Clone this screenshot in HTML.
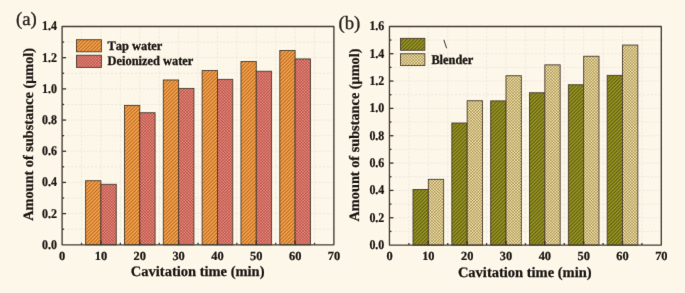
<!DOCTYPE html>
<html><head><meta charset="utf-8"><style>
html,body{margin:0;padding:0;background:#fdf7ea;}
#c{width:685px;height:293px;position:relative;overflow:hidden;background:#fdf7ea;}
svg{position:absolute;left:0;top:0;}
</style></head><body><div id="c">
<svg width="685" height="293" viewBox="0 0 685 293" text-rendering="geometricPrecision">

<defs>
 <filter id="bl" x="0" y="0" width="1" height="1" color-interpolation-filters="sRGB"><feConvolveMatrix order="5" kernelMatrix="0.00016 -0.00108 -0.01070 -0.00108 0.00016 -0.00108 0.00740 0.07338 0.00740 -0.00108 -0.01070 0.07338 0.72769 0.07338 -0.01070 -0.00108 0.00740 0.07338 0.00740 -0.00108 0.00016 -0.00108 -0.01070 -0.00108 0.00016" edgeMode="duplicate" preserveAlpha="true"/></filter>
 <pattern id="pOr" patternUnits="userSpaceOnUse" width="2.5" height="10" patternTransform="rotate(45)">
   <rect width="2.5" height="10" fill="#fca448"/>
   <rect width="1.0" height="10" fill="#b06a2a"/>
 </pattern>
 <pattern id="pRd" patternUnits="userSpaceOnUse" width="2.05" height="2.05" patternTransform="rotate(45)">
   <rect width="2.05" height="2.05" fill="#f98c7e"/>
   <rect width="0.8" height="2.05" fill="#702822" fill-opacity="0.42"/>
   <rect width="2.05" height="0.8" fill="#702822" fill-opacity="0.42"/>
 </pattern>
 <pattern id="pGr" patternUnits="userSpaceOnUse" width="2.5" height="10" patternTransform="rotate(45)">
   <rect width="2.5" height="10" fill="#9a9822"/>
   <rect width="1.0" height="10" fill="#5c5912"/>
 </pattern>
 <pattern id="pTn" patternUnits="userSpaceOnUse" width="2.05" height="2.05" patternTransform="rotate(45)">
   <rect width="2.05" height="2.05" fill="#fcecaa"/>
   <rect width="0.8" height="2.05" fill="#5a4418" fill-opacity="0.4"/>
   <rect width="2.05" height="0.8" fill="#5a4418" fill-opacity="0.4"/>
 </pattern>
</defs>
<g filter="url(#bl)"><rect width="685" height="293" fill="#fdf7ea"/>
<g stroke="#ebe6da" stroke-width="0.8" stroke-dasharray="2.4 1.6"><line x1="63.10" y1="229.21" x2="332.90" y2="229.21"/><line x1="63.10" y1="213.61" x2="332.90" y2="213.61"/><line x1="63.10" y1="198.02" x2="332.90" y2="198.02"/><line x1="63.10" y1="182.43" x2="332.90" y2="182.43"/><line x1="63.10" y1="166.84" x2="332.90" y2="166.84"/><line x1="63.10" y1="151.24" x2="332.90" y2="151.24"/><line x1="63.10" y1="135.65" x2="332.90" y2="135.65"/><line x1="63.10" y1="120.06" x2="332.90" y2="120.06"/><line x1="63.10" y1="104.46" x2="332.90" y2="104.46"/><line x1="63.10" y1="88.87" x2="332.90" y2="88.87"/><line x1="63.10" y1="73.28" x2="332.90" y2="73.28"/><line x1="63.10" y1="57.68" x2="332.90" y2="57.68"/><line x1="63.10" y1="42.09" x2="332.90" y2="42.09"/><line x1="81.52" y1="27.45" x2="81.52" y2="243.80"/><line x1="100.94" y1="27.45" x2="100.94" y2="243.80"/><line x1="120.35" y1="27.45" x2="120.35" y2="243.80"/><line x1="139.77" y1="27.45" x2="139.77" y2="243.80"/><line x1="159.19" y1="27.45" x2="159.19" y2="243.80"/><line x1="178.61" y1="27.45" x2="178.61" y2="243.80"/><line x1="198.03" y1="27.45" x2="198.03" y2="243.80"/><line x1="217.44" y1="27.45" x2="217.44" y2="243.80"/><line x1="236.86" y1="27.45" x2="236.86" y2="243.80"/><line x1="256.28" y1="27.45" x2="256.28" y2="243.80"/><line x1="275.70" y1="27.45" x2="275.70" y2="243.80"/><line x1="295.12" y1="27.45" x2="295.12" y2="243.80"/><line x1="314.53" y1="27.45" x2="314.53" y2="243.80"/></g>
<rect x="85.62" y="180.71" width="15.32" height="64.09" fill="url(#pOr)" stroke="#4a3d30" stroke-width="0.9"/>
<rect x="100.94" y="184.30" width="15.32" height="60.50" fill="url(#pRd)" stroke="#4a3d30" stroke-width="0.9"/>
<rect x="124.45" y="105.40" width="15.32" height="139.40" fill="url(#pOr)" stroke="#4a3d30" stroke-width="0.9"/>
<rect x="139.77" y="112.73" width="15.32" height="132.07" fill="url(#pRd)" stroke="#4a3d30" stroke-width="0.9"/>
<rect x="163.29" y="79.98" width="15.32" height="164.82" fill="url(#pOr)" stroke="#4a3d30" stroke-width="0.9"/>
<rect x="178.61" y="88.40" width="15.32" height="156.40" fill="url(#pRd)" stroke="#4a3d30" stroke-width="0.9"/>
<rect x="202.12" y="70.55" width="15.32" height="174.25" fill="url(#pOr)" stroke="#4a3d30" stroke-width="0.9"/>
<rect x="217.44" y="79.36" width="15.32" height="165.44" fill="url(#pRd)" stroke="#4a3d30" stroke-width="0.9"/>
<rect x="240.96" y="61.58" width="15.32" height="183.22" fill="url(#pOr)" stroke="#4a3d30" stroke-width="0.9"/>
<rect x="256.28" y="71.25" width="15.32" height="173.55" fill="url(#pRd)" stroke="#4a3d30" stroke-width="0.9"/>
<rect x="279.80" y="50.45" width="15.32" height="194.35" fill="url(#pOr)" stroke="#4a3d30" stroke-width="0.9"/>
<rect x="295.12" y="58.93" width="15.32" height="185.87" fill="url(#pRd)" stroke="#4a3d30" stroke-width="0.9"/>
<g stroke="#3a332a" stroke-width="1.3"><line x1="62.10" y1="229.21" x2="64.10" y2="229.21"/><line x1="62.10" y1="213.61" x2="66.10" y2="213.61"/><line x1="62.10" y1="198.02" x2="64.10" y2="198.02"/><line x1="62.10" y1="182.43" x2="66.10" y2="182.43"/><line x1="62.10" y1="166.84" x2="64.10" y2="166.84"/><line x1="62.10" y1="151.24" x2="66.10" y2="151.24"/><line x1="62.10" y1="135.65" x2="64.10" y2="135.65"/><line x1="62.10" y1="120.06" x2="66.10" y2="120.06"/><line x1="62.10" y1="104.46" x2="64.10" y2="104.46"/><line x1="62.10" y1="88.87" x2="66.10" y2="88.87"/><line x1="62.10" y1="73.28" x2="64.10" y2="73.28"/><line x1="62.10" y1="57.68" x2="66.10" y2="57.68"/><line x1="62.10" y1="42.09" x2="64.10" y2="42.09"/><line x1="81.52" y1="244.80" x2="81.52" y2="242.80"/><line x1="100.94" y1="244.80" x2="100.94" y2="240.80"/><line x1="120.35" y1="244.80" x2="120.35" y2="242.80"/><line x1="139.77" y1="244.80" x2="139.77" y2="240.80"/><line x1="159.19" y1="244.80" x2="159.19" y2="242.80"/><line x1="178.61" y1="244.80" x2="178.61" y2="240.80"/><line x1="198.03" y1="244.80" x2="198.03" y2="242.80"/><line x1="217.44" y1="244.80" x2="217.44" y2="240.80"/><line x1="236.86" y1="244.80" x2="236.86" y2="242.80"/><line x1="256.28" y1="244.80" x2="256.28" y2="240.80"/><line x1="275.70" y1="244.80" x2="275.70" y2="242.80"/><line x1="295.12" y1="244.80" x2="295.12" y2="240.80"/><line x1="314.53" y1="244.80" x2="314.53" y2="242.80"/></g>
<rect x="62.10" y="26.45" width="271.80" height="218.35" fill="none" stroke="#463e34" stroke-width="1.35" stroke-linejoin="round"/>
<g font-family="Liberation Serif" font-weight="bold" font-size="12.4" fill="#1a1612" stroke="#1a1612" stroke-width="0.22"><text transform="translate(57.00,248.70) scale(0.965,1.075)" text-anchor="end">0.0</text><text transform="translate(57.00,217.51) scale(0.965,1.075)" text-anchor="end">0.2</text><text transform="translate(57.00,186.33) scale(0.965,1.075)" text-anchor="end">0.4</text><text transform="translate(57.00,155.14) scale(0.965,1.075)" text-anchor="end">0.6</text><text transform="translate(57.00,123.96) scale(0.965,1.075)" text-anchor="end">0.8</text><text transform="translate(57.00,92.77) scale(0.965,1.075)" text-anchor="end">1.0</text><text transform="translate(57.00,61.58) scale(0.965,1.075)" text-anchor="end">1.2</text><text transform="translate(57.00,30.40) scale(0.965,1.075)" text-anchor="end">1.4</text><text transform="translate(62.10,259.5)" text-anchor="middle">0</text><text transform="translate(100.94,259.5)" text-anchor="middle">10</text><text transform="translate(139.77,259.5)" text-anchor="middle">20</text><text transform="translate(178.61,259.5)" text-anchor="middle">30</text><text transform="translate(217.44,259.5)" text-anchor="middle">40</text><text transform="translate(256.28,259.5)" text-anchor="middle">50</text><text transform="translate(295.12,259.5)" text-anchor="middle">60</text><text transform="translate(333.95,259.5)" text-anchor="middle">70</text></g>
<g stroke="#ebe6da" stroke-width="0.8" stroke-dasharray="2.4 1.6"><line x1="390.45" y1="231.43" x2="660.30" y2="231.43"/><line x1="390.45" y1="217.76" x2="660.30" y2="217.76"/><line x1="390.45" y1="204.09" x2="660.30" y2="204.09"/><line x1="390.45" y1="190.42" x2="660.30" y2="190.42"/><line x1="390.45" y1="176.75" x2="660.30" y2="176.75"/><line x1="390.45" y1="163.08" x2="660.30" y2="163.08"/><line x1="390.45" y1="149.41" x2="660.30" y2="149.41"/><line x1="390.45" y1="135.74" x2="660.30" y2="135.74"/><line x1="390.45" y1="122.07" x2="660.30" y2="122.07"/><line x1="390.45" y1="108.40" x2="660.30" y2="108.40"/><line x1="390.45" y1="94.73" x2="660.30" y2="94.73"/><line x1="390.45" y1="81.06" x2="660.30" y2="81.06"/><line x1="390.45" y1="67.39" x2="660.30" y2="67.39"/><line x1="390.45" y1="53.72" x2="660.30" y2="53.72"/><line x1="390.45" y1="40.05" x2="660.30" y2="40.05"/><line x1="408.92" y1="27.50" x2="408.92" y2="244.10"/><line x1="428.33" y1="27.50" x2="428.33" y2="244.10"/><line x1="447.75" y1="27.50" x2="447.75" y2="244.10"/><line x1="467.17" y1="27.50" x2="467.17" y2="244.10"/><line x1="486.59" y1="27.50" x2="486.59" y2="244.10"/><line x1="506.00" y1="27.50" x2="506.00" y2="244.10"/><line x1="525.42" y1="27.50" x2="525.42" y2="244.10"/><line x1="544.84" y1="27.50" x2="544.84" y2="244.10"/><line x1="564.26" y1="27.50" x2="564.26" y2="244.10"/><line x1="583.67" y1="27.50" x2="583.67" y2="244.10"/><line x1="603.09" y1="27.50" x2="603.09" y2="244.10"/><line x1="622.51" y1="27.50" x2="622.51" y2="244.10"/><line x1="641.93" y1="27.50" x2="641.93" y2="244.10"/></g>
<rect x="413.01" y="189.46" width="15.32" height="55.64" fill="url(#pGr)" stroke="#4a3d30" stroke-width="0.9"/>
<rect x="428.33" y="179.35" width="15.32" height="65.75" fill="url(#pTn)" stroke="#4a3d30" stroke-width="0.9"/>
<rect x="451.85" y="123.03" width="15.32" height="122.07" fill="url(#pGr)" stroke="#4a3d30" stroke-width="0.9"/>
<rect x="467.17" y="100.74" width="15.32" height="144.36" fill="url(#pTn)" stroke="#4a3d30" stroke-width="0.9"/>
<rect x="490.69" y="100.88" width="15.32" height="144.22" fill="url(#pGr)" stroke="#4a3d30" stroke-width="0.9"/>
<rect x="506.00" y="75.73" width="15.32" height="169.37" fill="url(#pTn)" stroke="#4a3d30" stroke-width="0.9"/>
<rect x="529.52" y="92.75" width="15.32" height="152.35" fill="url(#pGr)" stroke="#4a3d30" stroke-width="0.9"/>
<rect x="544.84" y="64.85" width="15.32" height="180.25" fill="url(#pTn)" stroke="#4a3d30" stroke-width="0.9"/>
<rect x="568.35" y="84.75" width="15.32" height="160.35" fill="url(#pGr)" stroke="#4a3d30" stroke-width="0.9"/>
<rect x="583.67" y="56.25" width="15.32" height="188.85" fill="url(#pTn)" stroke="#4a3d30" stroke-width="0.9"/>
<rect x="607.19" y="75.35" width="15.32" height="169.75" fill="url(#pGr)" stroke="#4a3d30" stroke-width="0.9"/>
<rect x="622.51" y="45.05" width="15.32" height="200.05" fill="url(#pTn)" stroke="#4a3d30" stroke-width="0.9"/>
<g stroke="#3a332a" stroke-width="1.3"><line x1="389.45" y1="231.43" x2="391.45" y2="231.43"/><line x1="389.45" y1="217.76" x2="393.45" y2="217.76"/><line x1="389.45" y1="204.09" x2="391.45" y2="204.09"/><line x1="389.45" y1="190.42" x2="393.45" y2="190.42"/><line x1="389.45" y1="176.75" x2="391.45" y2="176.75"/><line x1="389.45" y1="163.08" x2="393.45" y2="163.08"/><line x1="389.45" y1="149.41" x2="391.45" y2="149.41"/><line x1="389.45" y1="135.74" x2="393.45" y2="135.74"/><line x1="389.45" y1="122.07" x2="391.45" y2="122.07"/><line x1="389.45" y1="108.40" x2="393.45" y2="108.40"/><line x1="389.45" y1="94.73" x2="391.45" y2="94.73"/><line x1="389.45" y1="81.06" x2="393.45" y2="81.06"/><line x1="389.45" y1="67.39" x2="391.45" y2="67.39"/><line x1="389.45" y1="53.72" x2="393.45" y2="53.72"/><line x1="389.45" y1="40.05" x2="391.45" y2="40.05"/><line x1="408.92" y1="245.10" x2="408.92" y2="243.10"/><line x1="428.33" y1="245.10" x2="428.33" y2="241.10"/><line x1="447.75" y1="245.10" x2="447.75" y2="243.10"/><line x1="467.17" y1="245.10" x2="467.17" y2="241.10"/><line x1="486.59" y1="245.10" x2="486.59" y2="243.10"/><line x1="506.00" y1="245.10" x2="506.00" y2="241.10"/><line x1="525.42" y1="245.10" x2="525.42" y2="243.10"/><line x1="544.84" y1="245.10" x2="544.84" y2="241.10"/><line x1="564.26" y1="245.10" x2="564.26" y2="243.10"/><line x1="583.67" y1="245.10" x2="583.67" y2="241.10"/><line x1="603.09" y1="245.10" x2="603.09" y2="243.10"/><line x1="622.51" y1="245.10" x2="622.51" y2="241.10"/><line x1="641.93" y1="245.10" x2="641.93" y2="243.10"/></g>
<rect x="389.45" y="26.50" width="271.85" height="218.60" fill="none" stroke="#463e34" stroke-width="1.35" stroke-linejoin="round"/>
<g font-family="Liberation Serif" font-weight="bold" font-size="12.4" fill="#1a1612" stroke="#1a1612" stroke-width="0.22"><text transform="translate(384.35,249.00) scale(0.965,1.075)" text-anchor="end">0.0</text><text transform="translate(384.35,221.66) scale(0.965,1.075)" text-anchor="end">0.2</text><text transform="translate(384.35,194.32) scale(0.965,1.075)" text-anchor="end">0.4</text><text transform="translate(384.35,166.98) scale(0.965,1.075)" text-anchor="end">0.6</text><text transform="translate(384.35,139.64) scale(0.965,1.075)" text-anchor="end">0.8</text><text transform="translate(384.35,112.30) scale(0.965,1.075)" text-anchor="end">1.0</text><text transform="translate(384.35,84.96) scale(0.965,1.075)" text-anchor="end">1.2</text><text transform="translate(384.35,57.62) scale(0.965,1.075)" text-anchor="end">1.4</text><text transform="translate(384.35,30.28) scale(0.965,1.075)" text-anchor="end">1.6</text><text transform="translate(389.50,259.5)" text-anchor="middle">0</text><text transform="translate(428.33,259.5)" text-anchor="middle">10</text><text transform="translate(467.17,259.5)" text-anchor="middle">20</text><text transform="translate(506.00,259.5)" text-anchor="middle">30</text><text transform="translate(544.84,259.5)" text-anchor="middle">40</text><text transform="translate(583.67,259.5)" text-anchor="middle">50</text><text transform="translate(622.51,259.5)" text-anchor="middle">60</text><text transform="translate(661.35,259.5)" text-anchor="middle">70</text></g>
<g font-family="Liberation Serif" font-weight="bold" font-size="14.5" fill="#1a1612" stroke="#1a1612" stroke-width="0.25">
<text x="130.8" y="276.1">Cavitation time (min)</text>
<text x="457.9" y="276.6">Cavitation time (min)</text>
<text transform="translate(33.3,134.4) rotate(-90)" text-anchor="middle" font-size="14.3">Amount of substance (μmol)</text>
<text transform="translate(359.3,135.0) rotate(-90)" text-anchor="middle" font-size="14.3">Amount of substance (μmol)</text>
</g>
<rect x="76.5" y="39.7" width="24.9" height="12.1" fill="url(#pOr)" stroke="#4a3d30" stroke-width="0.9"/>
<rect x="76.5" y="55.25" width="24.9" height="12.15" fill="url(#pRd)" stroke="#4a3d30" stroke-width="0.9"/>
<rect x="400.45" y="38.35" width="24.4" height="11.9" fill="url(#pGr)" stroke="#4a3d30" stroke-width="0.9"/>
<rect x="400.45" y="53.75" width="24.4" height="11.7" fill="url(#pTn)" stroke="#4a3d30" stroke-width="0.9"/>
<g font-family="Liberation Serif" font-weight="bold" font-size="12.4" fill="#1a1612" stroke="#1a1612" stroke-width="0.3">
<text transform="translate(107.6,49.6) scale(1,1.06)" style="font-kerning:none">Tap water</text>
<text transform="translate(107.6,65.1) scale(1,1.06)">Deionized water</text>
<text transform="translate(431.4,63.8) scale(0.995,1.07)">Blender</text>
</g>
<line x1="443.85" y1="39.8" x2="446.6" y2="48.2" stroke="#302a24" stroke-width="0.95"/>
<g font-family="Liberation Serif" font-size="18.75" fill="#28241f" stroke="#28241f" stroke-width="0.3">
<text x="15.9" y="24.6">(a)</text>
<text x="338.5" y="29.1">(b)</text>
</g>
</g></svg></div></body></html>
